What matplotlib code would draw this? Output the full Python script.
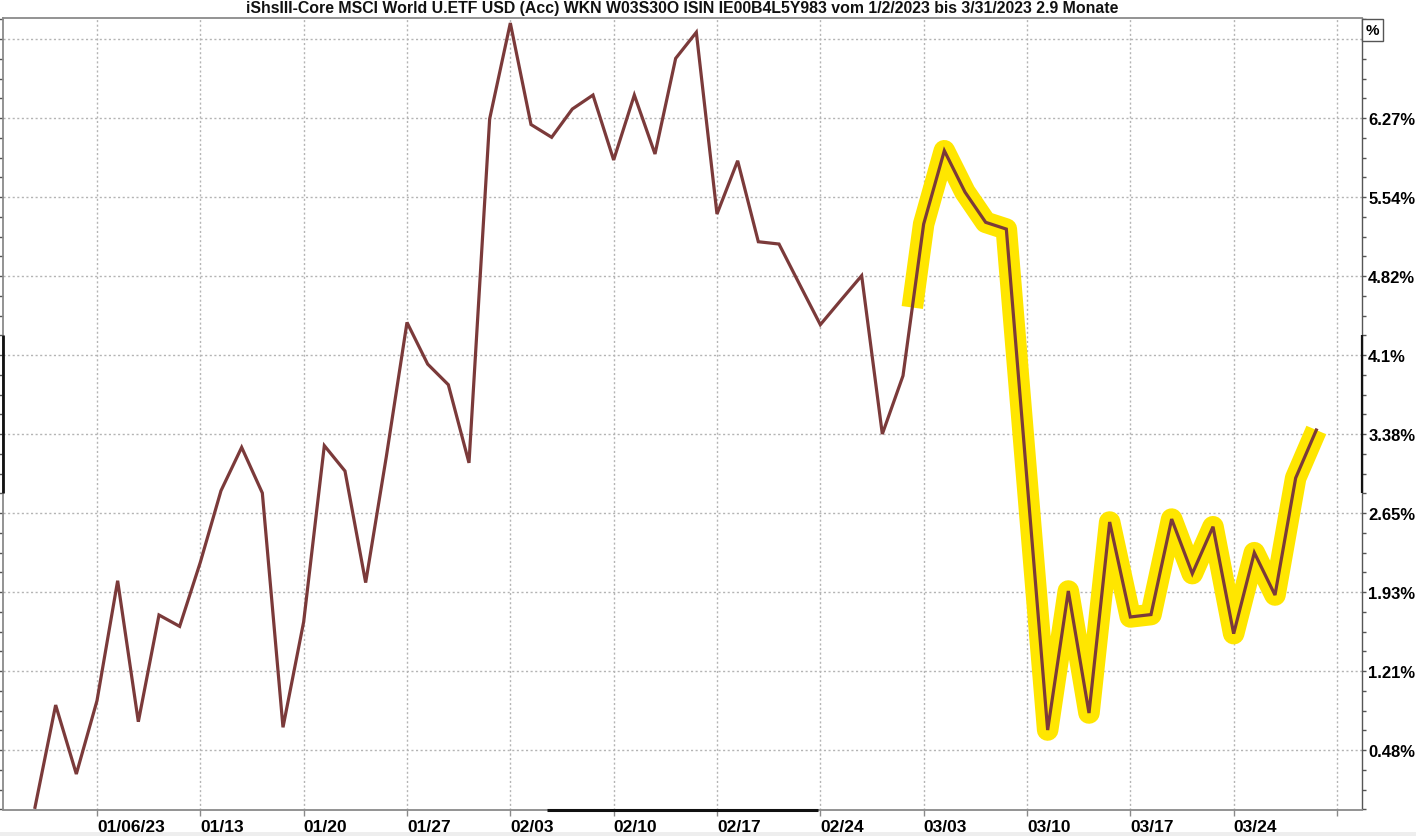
import numpy as np
import pandas as pd
import matplotlib
matplotlib.use("Agg")
import matplotlib.pyplot as plt
from matplotlib.ticker import FixedLocator, AutoMinorLocator

plt.rcParams["font.family"] = ["Liberation Sans", "DejaVu Sans"]

# daily performance in % (trading days 2023-01-03 .. 2023-03-30)
perf = [-0.045, 0.892, 0.260, 0.932, 2.031, 0.739, 1.717, 1.613, 2.200, 2.856,
        3.253, 2.835, 0.688, 1.654, 3.269, 3.036, 2.014, 3.168, 4.398, 4.016,
        3.827, 3.111, 6.263, 7.141, 6.211, 6.094, 6.353, 6.481, 5.886, 6.481,
        5.941, 6.817, 7.056, 5.391, 5.879, 5.137, 5.116, 4.745, 4.377, 4.603,
        4.826, 3.375, 3.909, 5.299, 5.971, 5.592, 5.315, 5.253, 2.954, 0.663,
        1.937, 0.819, 2.569, 1.699, 1.721, 2.596, 2.096, 2.526, 1.546, 2.288,
        1.900, 2.972, 3.412]
dates = pd.bdate_range("2023-01-03", periods=len(perf))
grid_days = pd.bdate_range("2023-01-03", "2023-03-31")

y_tick_labels = ["0.48%", "1.21%", "1.93%", "2.65%", "3.38%", "4.1%",
                 "4.82%", "5.54%", "6.27%", ""]
y_tick_start, y_tick_step = 0.48, 0.72375
highlight_from = 42.45   # marker stroke starts partway up the 03/01 segment

title = ("iShsIII-Core MSCI World U.ETF USD (Acc) WKN W03S30O ISIN IE00B4L5Y983 "
         "vom 1/2/2023 bis 3/31/2023 2.9 Monate")

LINE = "#7B3A3A"
HILITE = "#FFE600"
GRID = "#b4b4b4"
SPINE = "#8a8a8a"

W, H = 1416, 837
fig = plt.figure(figsize=(W / 100, H / 100), dpi=100)
band = plt.Rectangle((0, 0), 1, 4 / H, transform=fig.transFigure,
                     fc="#eeeeee", ec="none", zorder=-5)
fig.patches.append(band)
ax = fig.add_axes([3 / W, (H - 810.5) / H, 1359 / W, (810.5 - 19) / H])

x = np.arange(len(perf))
y = np.array(perf)

hx = np.concatenate([[highlight_from], x[43:]])
hy = np.concatenate([[np.interp(highlight_from, x, y)], y[43:]])
ax.plot(hx, hy, color=HILITE, lw=15.5, solid_capstyle="butt",
        solid_joinstyle="round", zorder=2)
ax.plot(x, y, color=LINE, lw=2.3, solid_joinstyle="miter", zorder=3)

ax.set_xlim(-1.548, 64.21)
ax.set_ylim(-0.065, 7.187)

# x axis: weekly grid on Fridays, trading-day spacing
fri = [i for i, d in enumerate(grid_days) if d.weekday() == 4]
fri_labels = [grid_days[i].strftime("%m/%d/%y") if k == 0 else grid_days[i].strftime("%m/%d")
              for k, i in enumerate(fri)]
fri_labels[-1] = ""
ax.xaxis.set_major_locator(FixedLocator(fri))
ax.set_xticklabels(fri_labels, fontsize=12.5, fontweight="bold", ha="left")
ax.tick_params(axis="x", direction="out", length=4, width=1, color=SPINE, pad=3)

# y axis on the right
yt = [y_tick_start + k * y_tick_step for k in range(len(y_tick_labels))]
ax.yaxis.tick_right()
ax.yaxis.set_major_locator(FixedLocator(yt))
ax.set_yticklabels(y_tick_labels, fontsize=12, fontweight="bold")
ax.yaxis.set_minor_locator(AutoMinorLocator(4))
ax.tick_params(axis="y", which="both", direction="out", length=3, width=1,
               color="#555555", pad=1.5, left=True, right=True)

ax.grid(True, which="major", color=GRID, lw=1, ls=(0, (1.5, 1.8)))
ax.set_axisbelow(True)

for k, sp in ax.spines.items():
    sp.set_color(SPINE)
    sp.set_linewidth(1.3)
ax.spines["right"].set_color("#555555")
ax.spines["right"].set_linewidth(1)

# darker scroll markers on the frame
ax.plot([0.4, 0.6], [0, 0], transform=ax.transAxes, color="#111111", lw=2.2,
        clip_on=False, zorder=5, solid_capstyle="butt")
ax.plot([0, 0], [0.4, 0.6], transform=ax.transAxes, color="#111111", lw=2.0,
        clip_on=False, zorder=5, solid_capstyle="butt")
ax.plot([1, 1], [0.4, 0.6], transform=ax.transAxes, color="#111111", lw=1.6,
        clip_on=False, zorder=5, solid_capstyle="butt")

fig.text(682.5 / W, 1 - 9 / H, title, ha="center", va="center",
         fontsize=11.4, fontweight="bold", color="#111111")
fig.text(1372.5 / W, 1 - 31 / H, "%", ha="center", va="center", fontsize=11,
         fontweight="bold",
         bbox=dict(boxstyle="square,pad=0.25", fc="white", ec="#555555", lw=1))

fig.savefig("out.png", dpi=100, facecolor="white")
